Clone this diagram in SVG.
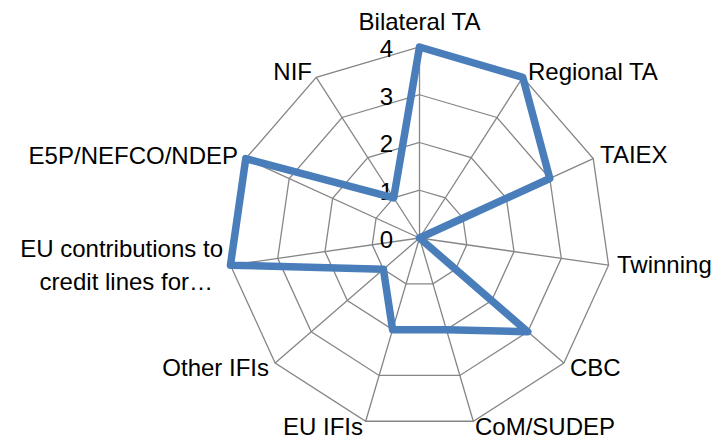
<svg xmlns="http://www.w3.org/2000/svg" width="716" height="439" viewBox="0 0 716 439">
<style>
.grid{fill:none;stroke:#868686;stroke-width:1.3}
.spoke{stroke:#868686;stroke-width:1.3}
.series{fill:none;stroke:#4A7EBB;stroke-width:7.5;stroke-linejoin:round}
text{font-family:"Liberation Sans",Arial,sans-serif;font-size:24px;fill:#000}
.tick{text-anchor:end}
</style>
<rect width="716" height="439" fill="#fff"/>
<g id="grid">
<polygon class="grid" points="419.5,47 522.76,77.32 593.24,158.65 608.56,265.18 563.85,363.08 473.31,421.26 365.69,421.26 275.15,363.08 230.44,265.18 245.76,158.65 316.24,77.32"/>
<polygon class="grid" points="419.5,94.75 496.95,117.49 549.8,178.49 561.29,258.39 527.76,331.81 459.86,375.45 379.14,375.45 311.24,331.81 277.71,258.39 289.2,178.49 342.05,117.49"/>
<polygon class="grid" points="419.5,142.5 471.13,157.66 506.37,198.33 514.03,251.59 491.67,300.54 446.41,329.63 392.59,329.63 347.33,300.54 324.97,251.59 332.63,198.33 367.87,157.66"/>
<polygon class="grid" points="419.5,190.25 445.32,197.83 462.93,218.16 466.76,244.8 455.59,269.27 432.95,283.82 406.05,283.82 383.41,269.27 372.24,244.8 376.07,218.16 393.68,197.83"/>
</g>
<g id="connectors">
<line class="spoke" x1="419.5" y1="238" x2="419.5" y2="47"/>
<line class="spoke" x1="419.5" y1="238" x2="522.76" y2="77.32"/>
<line class="spoke" x1="419.5" y1="238" x2="593.24" y2="158.65"/>
<line class="spoke" x1="419.5" y1="238" x2="608.56" y2="265.18"/>
<line class="spoke" x1="419.5" y1="238" x2="563.85" y2="363.08"/>
<line class="spoke" x1="419.5" y1="238" x2="473.31" y2="421.26"/>
<line class="spoke" x1="419.5" y1="238" x2="365.69" y2="421.26"/>
<line class="spoke" x1="419.5" y1="238" x2="275.15" y2="363.08"/>
<line class="spoke" x1="419.5" y1="238" x2="230.44" y2="265.18"/>
<line class="spoke" x1="419.5" y1="238" x2="245.76" y2="158.65"/>
<line class="spoke" x1="419.5" y1="238" x2="316.24" y2="77.32"/>
</g>
<g id="ticks">
<text class="tick" x="393" y="248">0</text>
<text class="tick" x="393" y="200">1</text>
<text class="tick" x="393" y="152">2</text>
<text class="tick" x="393" y="105">3</text>
<text class="tick" x="393" y="57">4</text>
</g>
<g id="series">
<polygon class="series" points="419.5,47 522.76,77.32 549.8,178.49 419.5,238 527.76,331.81 446.41,329.63 392.59,329.63 383.41,269.27 230.44,265.18 245.76,158.65 393.68,197.83"/>
</g>
<g id="label-bilateral-ta"><text x="419.5" y="30" text-anchor="middle">Bilateral TA</text></g>
<g id="label-regional-ta"><text x="528" y="80">Regional TA</text></g>
<g id="label-taiex"><text x="600" y="163">TAIEX</text></g>
<g id="label-twinning"><text x="617" y="273">Twinning</text></g>
<g id="label-cbc"><text x="570" y="376">CBC</text></g>
<g id="label-com-sudep"><text x="475" y="435">CoM/SUDEP</text></g>
<g id="label-eu-ifis"><text x="363" y="435" text-anchor="end">EU IFIs</text></g>
<g id="label-other-ifis"><text x="269" y="376" text-anchor="end">Other IFIs</text></g>
<g id="label-eu-contributions"><text x="223" y="257" text-anchor="end">EU contributions to</text><text x="213" y="290" text-anchor="end">credit lines for…</text></g>
<g id="label-e5p"><text x="238" y="164" text-anchor="end">E5P/NEFCO/NDEP</text></g>
<g id="label-nif"><text x="312" y="80" text-anchor="end">NIF</text></g>
</svg>
